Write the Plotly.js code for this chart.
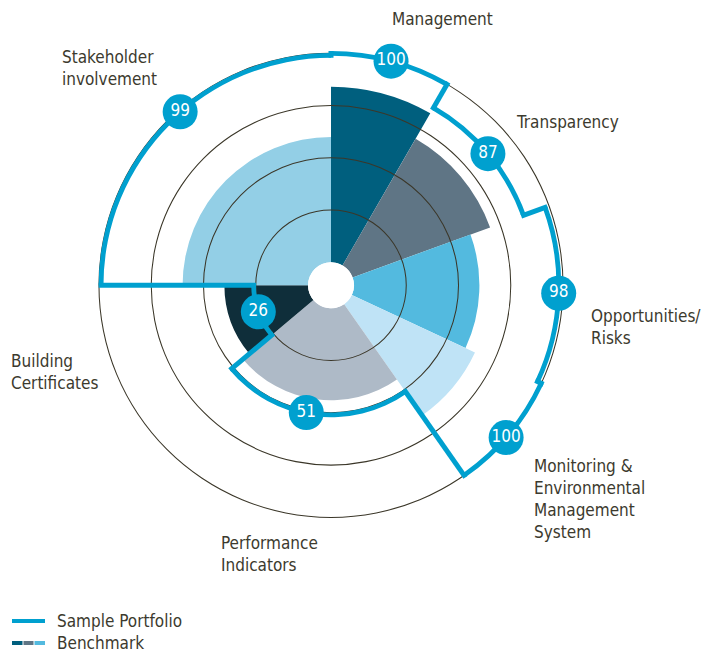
<!DOCTYPE html>
<html>
<head>
<meta charset="utf-8">
<script src="https://cdn.plot.ly/plotly-3.0.1.min.js"></script>
<style>
  html, body { margin: 0; padding: 0; background: #fff; }
  #chart { width: 726px; height: 652px; }
</style>
</head>
<body>
<div id="chart"></div>
<script>
// sectors run clockwise from 12 o'clock, each with its own angular width
const categories = ['Management', 'Transparency', 'Opportunities/<br>Risks',
  'Monitoring &<br>Environmental<br>Management<br>System', 'Performance<br>Indicators',
  'Building<br>Certificates', 'Stakeholder<br>involvement'];
const sectorStart = [0, 30, 70, 115, 145, 230, 270];
const sectorWidth = [30, 40, 45, 30, 85, 40, 90];
const benchmark = [84, 70, 60, 65, 44, 40, 60];
const portfolio = [100, 87, 98, 100, 51, 26, 99];
const badgeTheta = [15, 50, 92, 131, 191, 250, 319];
const benchmarkColors = ['#005f7e', '#5f7585', '#53badf', '#bfe3f6', '#aebac7', '#0f2e3a', '#93cfe6'];
const gridValues = [25, 50, 75, 100];

const W = 726, H = 652;
const cx = 331, cy = 285.3, R = 236.2, holePx = 23;
const blue = '#00a0cf';
const ink = '#3c3a2e';
const gridInk = '#3b3729';
const font = "'DejaVu Sans Condensed', 'Liberation Sans Narrow', 'Noto Sans', sans-serif";
const half = 1.15; // half thickness of the outline, radial units

const mids = sectorStart.map((s, i) => s + sectorWidth[i] / 2);

const data = [];

// benchmark wedges
data.push({
  type: 'barpolar',
  r: benchmark,
  theta: mids,
  width: sectorWidth,
  marker: { color: benchmarkColors, line: { width: 0 } },
  hoverinfo: 'skip',
  showlegend: false
});

// grid circles drawn over the wedges
data.push({
  type: 'barpolar',
  r: gridValues.map(() => 0.5),
  base: gridValues.map(g => g - 0.25),
  theta: gridValues.map(() => 180),
  width: gridValues.map(() => 360),
  marker: { color: gridInk, line: { width: 0 } },
  hoverinfo: 'skip',
  showlegend: false
});

// sample portfolio outline: arcs
data.push({
  type: 'barpolar',
  r: portfolio.map(() => 2 * half),
  base: portfolio.map(v => v - half),
  theta: mids,
  width: sectorWidth,
  marker: { color: blue, line: { width: 0 } },
  hoverinfo: 'skip',
  showlegend: false
});

// sample portfolio outline: radial steps between sectors
const stepR = [], stepT = [];
portfolio.forEach((v, i) => {
  const j = (i + 1) % portfolio.length;
  const a = sectorStart[i] + sectorWidth[i];
  stepR.push(Math.min(v, portfolio[j]) - half, Math.max(v, portfolio[j]) + half, null);
  stepT.push(a, a, null);
});
data.push({
  type: 'scatterpolar',
  mode: 'lines',
  r: stepR,
  theta: stepT,
  line: { color: blue, width: 5 },
  connectgaps: false,
  hoverinfo: 'skip',
  showlegend: false
});

// value badges
data.push({
  type: 'scatterpolar',
  mode: 'markers+text',
  r: portfolio,
  theta: badgeTheta,
  text: portfolio.map(String),
  textposition: 'middle center',
  textfont: { family: font, size: 17, color: '#ffffff' },
  marker: { size: 35, color: blue, line: { width: 0 } },
  cliponaxis: false,
  hoverinfo: 'skip',
  showlegend: false
});

const px = x => x / W;
const py = y => 1 - y / H;

const labelPos = [[393, 19], [517, 122], [592, 326.5], [535, 499], [222, 553.5], [12, 371.5], [63, 68]];
const annotations = categories.map((c, i) => ({
  text: c,
  xref: 'paper', yref: 'paper',
  x: px(labelPos[i][0] - 3), y: py(labelPos[i][1]),
  xanchor: 'left', yanchor: 'middle', align: 'left',
  showarrow: false,
  font: { family: font, size: 17, color: ink }
}));
annotations.push(
  { text: 'Sample Portfolio', xref: 'paper', yref: 'paper', x: px(55), y: py(621),
    xanchor: 'left', yanchor: 'middle', showarrow: false, font: { family: font, size: 17, color: ink } },
  { text: 'Benchmark', xref: 'paper', yref: 'paper', x: px(55), y: py(643),
    xanchor: 'left', yanchor: 'middle', showarrow: false, font: { family: font, size: 17, color: ink } }
);

const legendLine = (x0, x1, y, color) => ({
  type: 'line', xref: 'paper', yref: 'paper',
  x0: px(x0), x1: px(x1), y0: py(y), y1: py(y),
  line: { color: color, width: 4 }
});
const shapes = [
  legendLine(12, 45, 621, blue),
  legendLine(12, 22.5, 643, benchmarkColors[0]),
  legendLine(23.5, 33.5, 643, benchmarkColors[1]),
  legendLine(34.5, 45, 643, benchmarkColors[2])
];

const layout = {
  width: W, height: H,
  margin: { l: 0, r: 0, t: 0, b: 0 },
  paper_bgcolor: '#ffffff',
  showlegend: false,
  polar: {
    domain: { x: [px(cx - R), px(cx + R)], y: [py(cy + R), py(cy - R)] },
    hole: holePx / R,
    bgcolor: 'rgba(0,0,0,0)',
    barmode: 'overlay',
    radialaxis: { range: [0, 102], visible: false },
    angularaxis: { rotation: 90, direction: 'clockwise', visible: false }
  },
  annotations: annotations,
  shapes: shapes
};

Plotly.newPlot('chart', data, layout, { staticPlot: true });
</script>
</body>
</html>
